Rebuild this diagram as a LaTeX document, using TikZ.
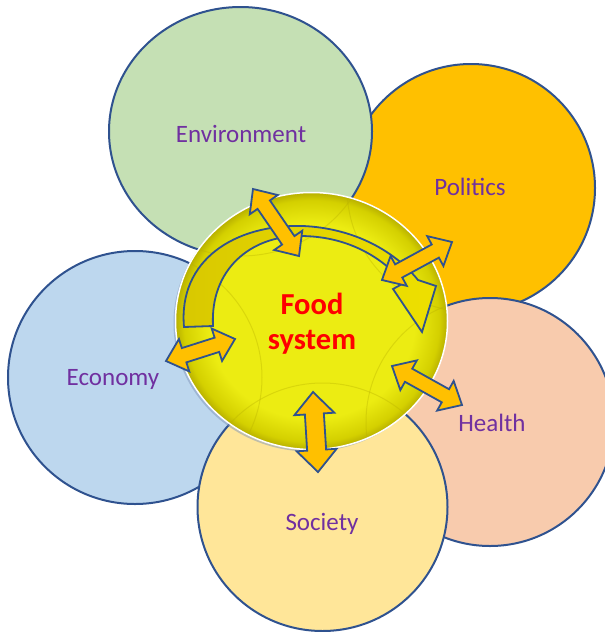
\documentclass[tikz,border=0pt]{standalone}
\usepackage{fontspec}
\setmainfont{Carlito}
\usetikzlibrary{calc}
\definecolor{outl}{HTML}{2F528F}
\definecolor{envc}{HTML}{C5E0B4}
\definecolor{polc}{HTML}{FFC000}
\definecolor{healc}{HTML}{F8CBAD}
\definecolor{socc}{HTML}{FFE699}
\definecolor{ecoc}{HTML}{BDD7EE}
\definecolor{lblc}{HTML}{7030A0}
\definecolor{arrc}{HTML}{FFC000}
\definecolor{fy}{HTML}{ECEC12}
\definecolor{fd}{HTML}{D4D000}
\definecolor{fdd}{HTML}{B8B000}
\definecolor{bandl}{HTML}{D8C800}
\definecolor{bandr}{HTML}{EEE000}
\pgfdeclareradialshading{foodshade}{\pgfpointorigin}{color(0bp)=(fy); color(19bp)=(fy); color(23.5bp)=(fd); color(25bp)=(fdd); color(50bp)=(fdd)}
\tikzset{
  bubble/.style={draw=outl, line width=2pt},
  lbl/.style={text=lblc, font=\fontsize{25}{30}\selectfont, inner sep=0pt},
  foodtxt/.style={text=red, font=\fontsize{30.5}{35}\selectfont\bfseries, align=center, inner sep=0pt},
  blockarr/.style={fill=arrc, draw=outl, line width=1.8pt, line join=miter},
  faint/.style={draw=fdd, opacity=0.35, line width=1pt}
}
\newcommand\dblarr[5]{%
 \draw[blockarr] (#1) -- ($($(#1)!#3!(#2)$)!#4!90:(#2)$) -- ($($(#1)!#3!(#2)$)!#5!90:(#2)$) -- ($($(#2)!#3!(#1)$)!#5!-90:(#1)$) -- ($($(#2)!#3!(#1)$)!#4!-90:(#1)$) -- (#2) -- ($($(#2)!#3!(#1)$)!#4!90:(#1)$) -- ($($(#2)!#3!(#1)$)!#5!90:(#1)$) -- ($($(#1)!#3!(#2)$)!#5!-90:(#2)$) -- ($($(#1)!#3!(#2)$)!#4!-90:(#2)$) -- cycle;}
\begin{document}
\begin{tikzpicture}[x=1pt, y=-1pt]
\useasboundingbox (0,0) rectangle (605,632);
\clip (0,0) rectangle (605,632);
% outer bubbles
\draw[bubble, fill=polc] (471,188) ellipse [x radius=124, y radius=124];
\draw[bubble, fill=envc] (240.5,131.5) ellipse [x radius=131.5, y radius=124.5];
\draw[bubble, fill=healc] (490,422) ellipse [x radius=124, y radius=124];
\draw[bubble, fill=ecoc] (135,377.5) ellipse [x radius=127, y radius=126.5];
\draw[bubble, fill=socc] (322.5,507) ellipse [x radius=125, y radius=124];
\node[lbl] (envL) at (241,134) {Environment};
\node[lbl] (polL) at (470,187) {Politics};
\node[lbl] (ecoL) at (113,379) {Economy};
\node[lbl] (heaL) at (492,423) {Health};
\node[lbl] (socL) at (322,524) {Society};
% centre
\fill[outl!60!white, opacity=0.5] (309.5,323) ellipse [x radius=136, y radius=128.5];
\shade[shading=foodshade] (311.5,321) ellipse [x radius=136, y radius=128.5];
\begin{scope}
\clip (311.5,321) ellipse [x radius=134, y radius=126.5];
\draw[faint] (471,188) ellipse [x radius=124, y radius=124];
\draw[faint] (240.5,131.5) ellipse [x radius=131.5, y radius=124.5];
\draw[faint] (490,422) ellipse [x radius=124, y radius=124];
\draw[faint] (135,377.5) ellipse [x radius=127, y radius=126.5];
\draw[faint] (322.5,507) ellipse [x radius=125, y radius=124];
\end{scope}
\draw[white, line width=1.5pt] (311.5,321) ellipse [x radius=136, y radius=128.5];
\node[foodtxt] (food) at (312,324) {Food\\system};
% curved arrow
\shadedraw[left color=bandl, right color=bandr, draw=outl, line width=1.8pt, line join=miter]
  (184,327) .. controls (178,260) and (235,224) .. (303,226)
  .. controls (350,228) and (392,248) .. (418,280)
  -- (436,286) -- (422,332) -- (393,289) -- (404,283)
  .. controls (380,255) and (345,236) .. (300,236)
  .. controls (250,236) and (210,270) .. (213,326) -- cycle;
% straight double arrows
\coordinate (envA) at (253,189);
\coordinate (envB) at (299,256);
\coordinate (polA) at (382,280);
\coordinate (polB) at (452,242);
\coordinate (heaA) at (392,366);
\coordinate (heaB) at (462,405);
\coordinate (socA) at (313,392);
\coordinate (socB) at (318,472);
\coordinate (ecoA) at (166,361);
\coordinate (ecoB) at (235,339);
\dblarr{envA}{envB}{19pt}{17pt}{7.5pt}
\dblarr{polA}{polB}{19pt}{17pt}{7.5pt}
\dblarr{heaA}{heaB}{19pt}{17pt}{7.5pt}
\dblarr{socA}{socB}{22pt}{20pt}{9.5pt}
\dblarr{ecoA}{ecoB}{19pt}{17pt}{7.5pt}
\end{tikzpicture}
\end{document}
